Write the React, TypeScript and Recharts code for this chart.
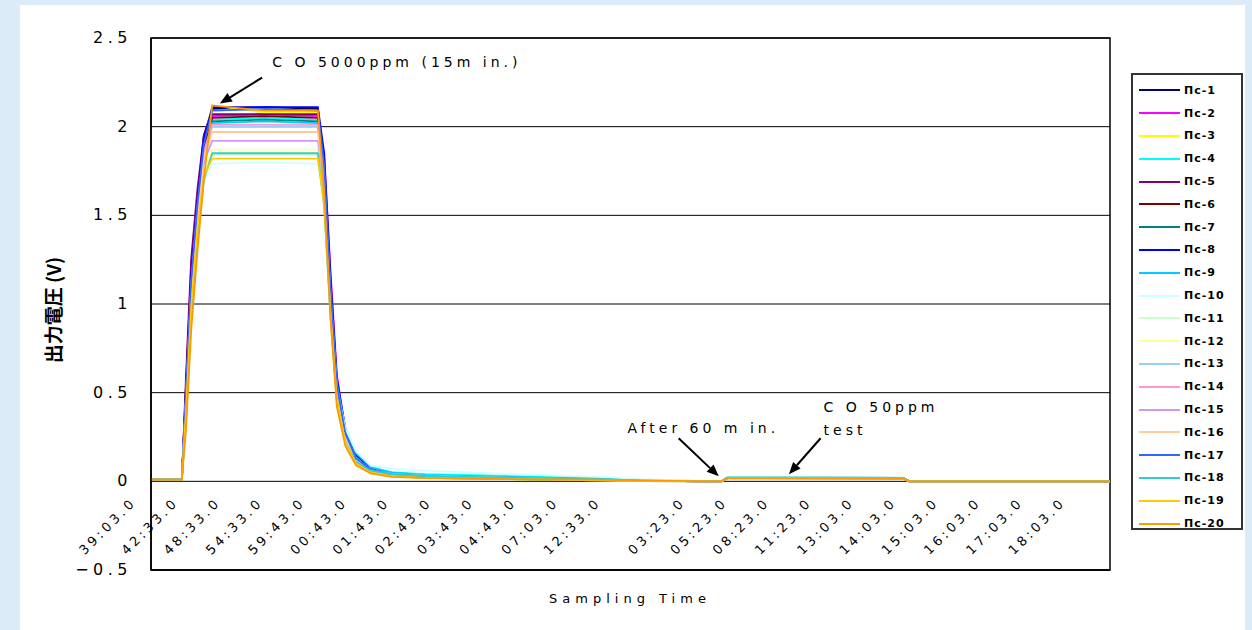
import React from 'react';
import { LineChart, Line, XAxis, YAxis, CartesianGrid, ReferenceLine, ReferenceDot, ReferenceArea } from 'recharts';

// sample positions (x index units; 10 units = one time label step)
const X_POS = [0, 7.3, 8.3, 9.5, 11, 12.5, 14.5, 27, 39.5, 41, 42.5, 44, 46, 48.5, 52, 57, 65, 85, 106, 116, 135, 136.5, 178, 179.5, 227];

const S1 = [0.01, 0.01, 0.55, 1.20, 1.60, 1.95, 2.10, 2.11, 2.10, 1.75, 1.05, 0.50, 0.25, 0.12, 0.06, 0.035, 0.025, 0.015, 0.008, 0.003, 0, 0.02, 0.02, 0, 0];
const S2 = [0.01, 0.01, 0.45, 1.05, 1.50, 1.85, 2.06, 2.07, 2.06, 1.82, 1.18, 0.60, 0.28, 0.13, 0.065, 0.035, 0.025, 0.015, 0.008, 0.003, 0, 0.02, 0.018, 0, 0];
const S3 = [0.01, 0.01, 0.50, 1.15, 1.62, 1.92, 2.12, 2.08, 2.08, 1.70, 1.00, 0.48, 0.23, 0.11, 0.055, 0.03, 0.02, 0.012, 0.006, 0.002, 0, 0.018, 0.015, 0, 0];
const S4 = [0.01, 0.01, 0.40, 1.00, 1.45, 1.80, 2.04, 2.05, 2.04, 1.65, 1.00, 0.52, 0.27, 0.14, 0.075, 0.05, 0.04, 0.03, 0.018, 0.008, 0, 0.025, 0.02, 0, 0];
const S5 = [0.01, 0.01, 0.60, 1.25, 1.65, 1.95, 2.07, 2.07, 2.07, 1.76, 1.06, 0.50, 0.24, 0.12, 0.06, 0.035, 0.025, 0.015, 0.008, 0.003, 0, 0.022, 0.02, 0, 0];
const S6 = [0.01, 0.01, 0.50, 1.10, 1.55, 1.88, 2.05, 2.06, 2.05, 1.72, 1.02, 0.50, 0.25, 0.12, 0.06, 0.035, 0.025, 0.015, 0.008, 0.003, 0, 0.02, 0.018, 0, 0];
const S7 = [0.01, 0.01, 0.45, 1.05, 1.50, 1.85, 2.03, 2.04, 2.03, 1.68, 0.98, 0.47, 0.23, 0.11, 0.055, 0.03, 0.02, 0.012, 0.006, 0.002, 0, 0.018, 0.016, 0, 0];
const S8 = [0.01, 0.01, 0.52, 1.15, 1.58, 1.93, 2.11, 2.11, 2.11, 1.85, 1.15, 0.58, 0.30, 0.15, 0.07, 0.04, 0.03, 0.018, 0.01, 0.004, 0, 0.02, 0.02, 0, 0];
const S9 = [0.01, 0.01, 0.42, 1.02, 1.48, 1.82, 2.02, 2.03, 2.02, 1.70, 1.05, 0.55, 0.30, 0.16, 0.08, 0.05, 0.035, 0.025, 0.015, 0.006, 0, 0.022, 0.02, 0, 0];
const S10 = [0.01, 0.01, 0.38, 0.95, 1.38, 1.68, 1.79, 1.80, 1.79, 1.55, 0.98, 0.52, 0.30, 0.17, 0.09, 0.07, 0.06, 0.04, 0.025, 0.012, 0, 0.025, 0.022, 0, 0];
const S11 = [0.01, 0.01, 0.40, 0.98, 1.42, 1.72, 1.84, 1.84, 1.84, 1.58, 0.98, 0.48, 0.25, 0.13, 0.065, 0.04, 0.03, 0.02, 0.01, 0.004, 0, 0.02, 0.018, 0, 0];
const S12 = [0.01, 0.01, 0.45, 1.02, 1.45, 1.75, 1.87, 1.87, 1.87, 1.60, 0.98, 0.48, 0.24, 0.12, 0.06, 0.035, 0.025, 0.015, 0.008, 0.003, 0, 0.02, 0.018, 0, 0];
const S13 = [0.01, 0.01, 0.48, 1.08, 1.52, 1.84, 2.00, 2.00, 2.00, 1.68, 1.00, 0.48, 0.24, 0.12, 0.06, 0.035, 0.025, 0.015, 0.008, 0.003, 0, 0.02, 0.018, 0, 0];
const S14 = [0.01, 0.01, 0.48, 1.10, 1.55, 1.86, 2.01, 2.01, 2.01, 1.72, 1.05, 0.52, 0.26, 0.13, 0.065, 0.035, 0.025, 0.015, 0.008, 0.003, 0, 0.02, 0.018, 0, 0];
const S15 = [0.01, 0.01, 0.45, 1.05, 1.50, 1.80, 1.92, 1.92, 1.92, 1.65, 1.00, 0.50, 0.25, 0.12, 0.06, 0.035, 0.025, 0.015, 0.008, 0.003, 0, 0.02, 0.018, 0, 0];
const S16 = [0.01, 0.01, 0.42, 1.02, 1.48, 1.82, 1.97, 1.97, 1.97, 1.66, 1.00, 0.50, 0.25, 0.12, 0.06, 0.035, 0.025, 0.015, 0.008, 0.003, 0, 0.02, 0.018, 0, 0];
const S17 = [0.01, 0.01, 0.50, 1.12, 1.56, 1.90, 2.09, 2.10, 2.09, 1.78, 1.08, 0.54, 0.27, 0.13, 0.065, 0.038, 0.028, 0.016, 0.009, 0.003, 0, 0.02, 0.02, 0, 0];
const S18 = [0.01, 0.01, 0.35, 0.90, 1.35, 1.70, 1.85, 1.85, 1.85, 1.55, 0.92, 0.45, 0.22, 0.11, 0.06, 0.04, 0.03, 0.02, 0.012, 0.005, 0, 0.022, 0.02, 0, 0];
const S19 = [0.01, 0.01, 0.40, 0.98, 1.42, 1.72, 1.82, 1.82, 1.82, 1.56, 0.95, 0.46, 0.22, 0.10, 0.05, 0.03, 0.02, 0.012, 0.006, 0.002, 0, 0.018, 0.015, 0, 0];
const S20 = [0.01, 0.01, 0.30, 0.85, 1.30, 1.70, 2.12, 2.09, 2.09, 1.62, 0.92, 0.42, 0.20, 0.09, 0.045, 0.025, 0.018, 0.012, 0.01, 0.004, 0, 0.018, 0.015, 0, 0];

const SERIES_VALUES = [S1, S2, S3, S4, S5, S6, S7, S8, S9, S10, S11, S12, S13, S14, S15, S16, S17, S18, S19, S20];
const SERIES_NAMES = ['Пс-1', 'Пс-2', 'Пс-3', 'Пс-4', 'Пс-5', 'Пс-6', 'Пс-7', 'Пс-8', 'Пс-9', 'Пс-10', 'Пс-11', 'Пс-12', 'Пс-13', 'Пс-14', 'Пс-15', 'Пс-16', 'Пс-17', 'Пс-18', 'Пс-19', 'Пс-20'];
const SERIES_COLORS = ['#000080', '#FF00FF', '#FFFF00', '#00FFFF', '#800080', '#800000', '#008080', '#0000FF', '#00CCFF', '#CCFFFF', '#CCFFCC', '#FFFF99', '#99CCFF', '#FF99CC', '#CC99FF', '#FFCC99', '#3366FF', '#33CCCC', '#FFCC00', '#FF9900'];

const X_TICKS = [0, 10, 20, 30, 40, 50, 60, 70, 80, 90, 100, 110, 120, 130, 140, 150, 160, 170, 180, 190, 200, 210, 220];
const X_TICK_LABELS = ['39:03.0', '42:33.0', '48:33.0', '54:33.0', '59:43.0', '00:43.0', '01:43.0', '02:43.0', '03:43.0', '04:43.0', '07:03.0', '12:33.0', '', '03:23.0', '05:23.0', '08:23.0', '11:23.0', '13:03.0', '14:03.0', '15:03.0', '16:03.0', '17:03.0', '18:03.0'];
const Y_TICKS = [-0.5, 0, 0.5, 1, 1.5, 2, 2.5];
const Y_TICK_LABELS = ['−0.5', '0', '0.5', '1', '1.5', '2', '2.5'];

const X_DOMAIN_MAX = 227;

const data = X_POS.map((x, i) => {
  const row: Record<string, number> = { x };
  SERIES_VALUES.forEach((s, j) => {
    row['s' + (j + 1)] = s[i];
  });
  return row;
});

const FONT = '"DejaVu Sans", sans-serif';

const XTick = (props: any) => {
  const { x, y, payload } = props;
  const label = X_TICK_LABELS[Math.round(payload.value / 10)];
  const tx = x - 14;
  const ty = y - 67;
  return (
    <text
      x={tx}
      y={ty}
      transform={`rotate(-45, ${tx}, ${ty})`}
      textAnchor="end"
      fontFamily={FONT}
      fontSize={13}
      letterSpacing={3.5}
      fill="#000"
    >
      {label}
    </text>
  );
};

const YTick = (props: any) => {
  const { x, y, payload } = props;
  const idx = Y_TICKS.indexOf(payload.value);
  return (
    <text x={x - 19} y={y + 5} textAnchor="end" fontFamily={FONT} fontSize={16} letterSpacing={4.5} fill="#000">
      {Y_TICK_LABELS[idx]}
    </text>
  );
};

const Arrow = (p: any) => {
  const { x1, y1, x2, y2 } = p;
  const ang = Math.atan2(y2 - y1, x2 - x1);
  const L = 12;
  const W = 5;
  const bx = x2 - L * Math.cos(ang);
  const by = y2 - L * Math.sin(ang);
  const pts = `${x2},${y2} ${bx + W * Math.sin(ang)},${by - W * Math.cos(ang)} ${bx - W * Math.sin(ang)},${by + W * Math.cos(ang)}`;
  return (
    <g>
      <line x1={x1} y1={y1} x2={bx} y2={by} stroke="#000" strokeWidth={2} />
      <polygon points={pts} fill="#000" />
    </g>
  );
};

const makeText = (text: string) => (p: any) => (
  <text x={p.cx} y={p.cy} dominantBaseline="middle" fontFamily={FONT} fontSize={14} letterSpacing={4} fill="#000">
    {text}
  </text>
);

export default function App() {
  return (
    <div style={{ position: 'absolute', left: 0, top: 0, width: 1252, height: 630, background: '#DCEBF8', overflow: 'hidden' }}>
      <div style={{ position: 'absolute', left: 20, top: 5, width: 1225, height: 625, background: '#FFFFFF' }} />
      <div style={{ position: 'absolute', left: 0, top: 0 }}>
        <LineChart width={1252} height={630} data={data} margin={{ top: 38, right: 142, bottom: 59, left: 91 }}>
          <CartesianGrid vertical={false} stroke="#000" strokeWidth={1} />
          <ReferenceArea x1={0} x2={X_DOMAIN_MAX} y1={-0.5} y2={2.5} fill="none" stroke="#000" strokeWidth={1.5} />
          <XAxis
            dataKey="x"
            type="number"
            domain={[0, X_DOMAIN_MAX]}
            ticks={X_TICKS}
            interval={0}
            height={1}
            tickLine={false}
            tickSize={0}
            tickMargin={0}
            axisLine={{ stroke: '#000', strokeWidth: 1.5 }}
            tick={<XTick />}
          />
          <YAxis
            type="number"
            domain={[-0.5, 2.5]}
            ticks={Y_TICKS}
            interval={0}
            width={60}
            tickLine={false}
            tickSize={0}
            tickMargin={0}
            axisLine={{ stroke: '#000', strokeWidth: 1.5 }}
            tick={<YTick />}
          />
          {SERIES_NAMES.map((name, i) => (
            <Line
              key={name}
              type="linear"
              dataKey={'s' + (i + 1)}
              name={name}
              stroke={SERIES_COLORS[i]}
              strokeWidth={1.8}
              dot={false}
              isAnimationActive={false}
            />
          ))}
          <ReferenceLine segment={[{ x: 26.3, y: 2.277 }, { x: 16.3, y: 2.13 }]} shape={Arrow} />
          <ReferenceLine segment={[{ x: 124.9, y: 0.243 }, { x: 134.4, y: 0.028 }]} shape={Arrow} />
          <ReferenceLine segment={[{ x: 158.5, y: 0.243 }, { x: 151, y: 0.04 }]} shape={Arrow} />
          <ReferenceDot x={28.7} y={2.36} r={0} shape={makeText('C O 5000ppm (15m in.)')} />
          <ReferenceDot x={112.8} y={0.294} r={0} shape={makeText('After 60 m in.')} />
          <ReferenceDot x={159.2} y={0.412} r={0} shape={makeText('C O 50ppm')} />
          <ReferenceDot x={159.2} y={0.282} r={0} shape={makeText('test')} />
        </LineChart>
      </div>
      <div
        style={{
          position: 'absolute',
          left: 52,
          top: 310,
          transform: 'translate(-50%, -50%) rotate(-90deg)',
          fontFamily: '"Noto Sans CJK JP", sans-serif',
          fontSize: 19,
          fontWeight: 'bold',
          whiteSpace: 'nowrap',
          color: '#000',
        }}
      >
        出力電圧 (V)
      </div>
      <div
        style={{
          position: 'absolute',
          left: 630,
          top: 598,
          transform: 'translate(-50%, -50%)',
          fontFamily: FONT,
          fontSize: 13,
          letterSpacing: 5,
          whiteSpace: 'nowrap',
          color: '#000',
        }}
      >
        Sampling Time
      </div>
      <div
        style={{
          position: 'absolute',
          left: 1131,
          top: 73,
          width: 112,
          height: 457,
          boxSizing: 'border-box',
          border: '2px solid #333',
          background: '#fff',
          paddingTop: 4,
        }}
      >
        {SERIES_NAMES.map((name, i) => (
          <div key={name} style={{ height: 22.8, display: 'flex', alignItems: 'center' }}>
            <div style={{ marginLeft: 6, width: 41, height: 2, background: SERIES_COLORS[i] }} />
            <span style={{ marginLeft: 4, fontFamily: FONT, fontSize: 11, fontWeight: 'bold', letterSpacing: 1, color: '#000' }}>{name}</span>
          </div>
        ))}
      </div>
    </div>
  );
}
